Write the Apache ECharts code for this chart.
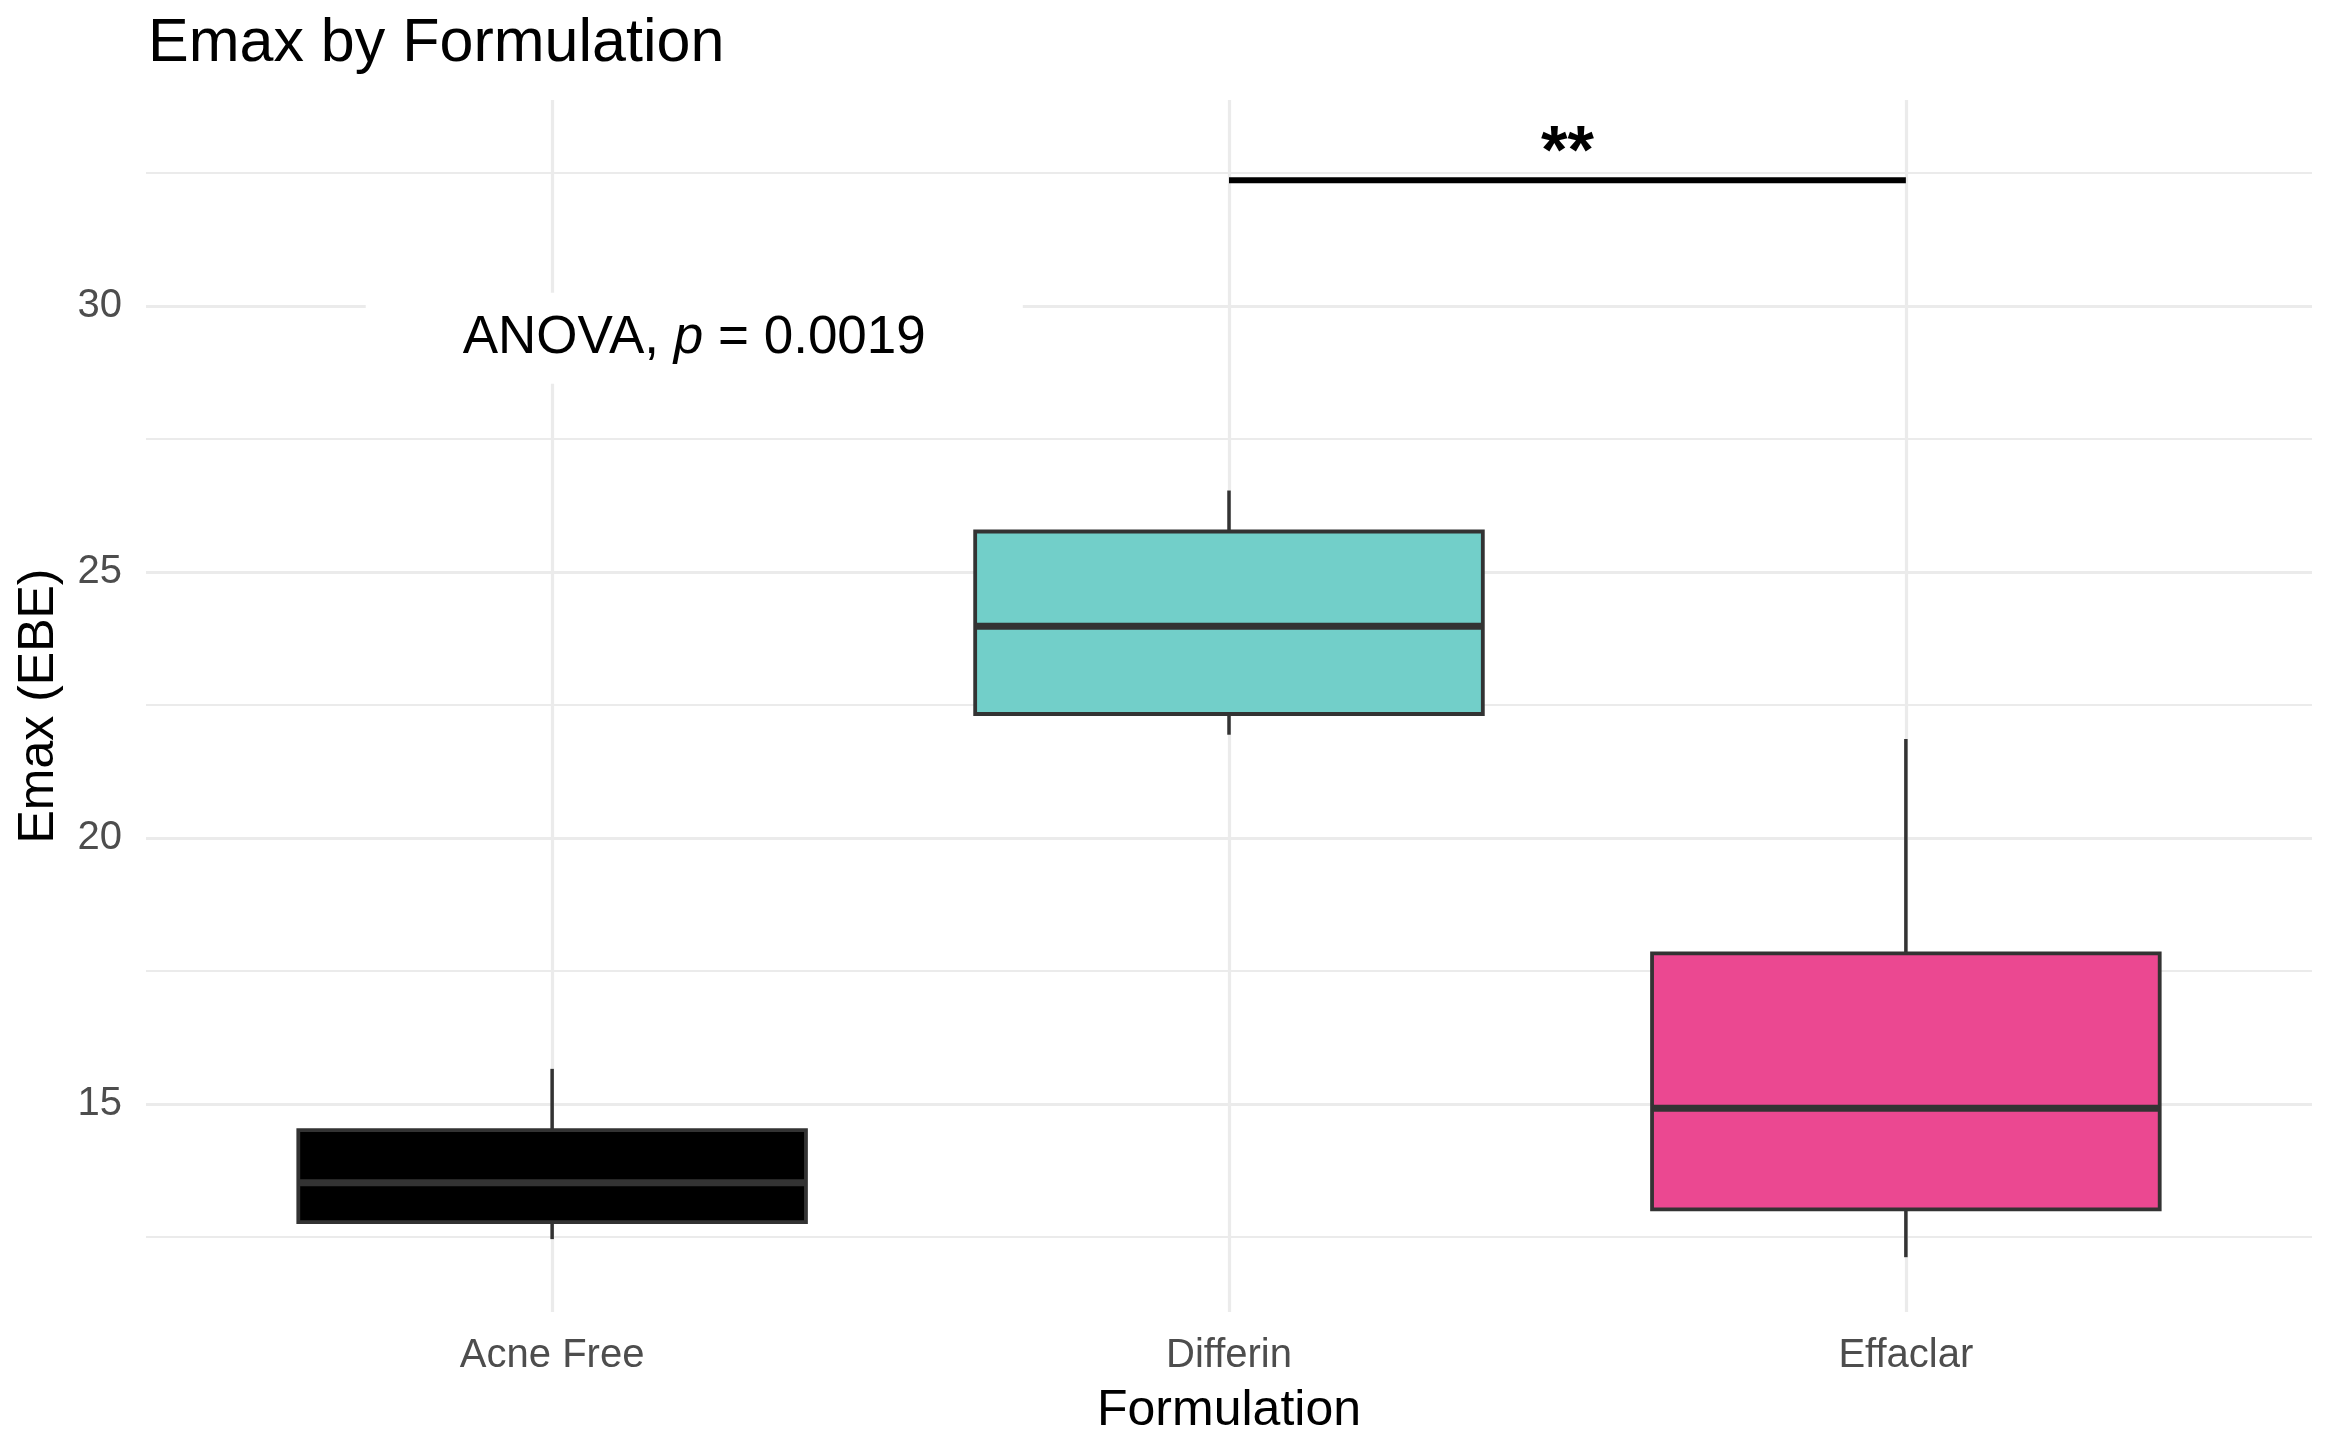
<!DOCTYPE html>
<html>
<head>
<meta charset="utf-8">
<title>Emax by Formulation</title>
<script src="https://cdn.jsdelivr.net/npm/echarts@6/dist/echarts.min.js"></script>
<style>
  html, body { margin: 0; padding: 0; background: #fff; }
  #main { width: 2331px; height: 1450px; }
</style>
</head>
<body>
<div id="main"></div>
<script>
// 数据（从图上读出的箱线图五个数）
var categories = ['Acne Free', 'Differin', 'Effaclar'];
var whiskerLow = [12.46, 21.94, 12.12];
var q1 = [12.78, 22.33, 13.02];
var median = [13.52, 23.98, 14.92];
var q3 = [14.51, 25.76, 17.83];
var whiskerHigh = [15.66, 26.53, 21.86];

var yMajorTicks = [15, 20, 25, 30];
var yMinorTicks = [12.5, 17.5, 22.5, 27.5, 32.5];

var anovaP = '0.0019';
var sigFrom = 'Differin';
var sigTo = 'Effaclar';
var sigY = 32.36;
var sigLabel = '**';

// 颜色
var boxColors = ['#000000', '#72CFC9', '#EB4891'];
var lineColor = '#333333';

var boxData = categories.map(function (c, i) {
    return [i + 1, whiskerLow[i], q1[i], median[i], q3[i], whiskerHigh[i]];
});
var catPos = categories.map(function (c, i) { return i + 1; });
var fromX = categories.indexOf(sigFrom) + 1;
var toX = categories.indexOf(sigTo) + 1;

var myChart = echarts.init(document.getElementById('main'));

function renderBox(params, api) {
    var x = api.value(0);
    var pMin = api.coord([x, api.value(1)]);
    var pQ1 = api.coord([x, api.value(2)]);
    var pMed = api.coord([x, api.value(3)]);
    var pQ3 = api.coord([x, api.value(4)]);
    var pMax = api.coord([x, api.value(5)]);
    var halfW = api.size([0.75, 0])[0] / 2;
    return {
        type: 'group',
        children: [
            { type: 'line', shape: { x1: pMax[0], y1: pMax[1], x2: pQ3[0], y2: pQ3[1] },
              style: { stroke: lineColor, lineWidth: 3.5 } },
            { type: 'line', shape: { x1: pMin[0], y1: pMin[1], x2: pQ1[0], y2: pQ1[1] },
              style: { stroke: lineColor, lineWidth: 3.5 } },
            { type: 'rect', shape: { x: pQ3[0] - halfW, y: pQ3[1], width: halfW * 2, height: pQ1[1] - pQ3[1] },
              style: { fill: boxColors[params.dataIndex], stroke: lineColor, lineWidth: 3.8 } },
            { type: 'line', shape: { x1: pMed[0] - halfW, y1: pMed[1], x2: pMed[0] + halfW, y2: pMed[1] },
              style: { stroke: lineColor, lineWidth: 7 } }
        ]
    };
}

var option = {
    animation: false,
    backgroundColor: '#ffffff',
    textStyle: { fontFamily: 'Liberation Sans' },
    title: {
        text: 'Emax by Formulation',
        left: 143,
        top: 9,
        textStyle: { fontSize: 61, fontWeight: 'normal', color: '#000', fontFamily: 'Liberation Sans' }
    },
    grid: { left: 146, right: 19, top: 100, bottom: 138, containLabel: false },
    xAxis: {
        type: 'value',
        min: 0.4,
        max: 3.6,
        name: 'Formulation',
        nameLocation: 'middle',
        nameGap: 74,
        nameTextStyle: { fontSize: 50, color: '#000' },
        axisLine: { show: false },
        axisTick: { show: false, customValues: catPos },
        axisLabel: {
            customValues: catPos,
            fontSize: 40,
            color: '#4D4D4D',
            margin: 24,
            formatter: function (v) { return categories[Math.round(v) - 1]; }
        },
        splitLine: { show: true, lineStyle: { color: '#EBEBEB', width: 3.2 } }
    },
    yAxis: [{
        type: 'value',
        min: 11.09,
        max: 33.87,
        name: 'Emax (EBE)',
        nameLocation: 'middle',
        nameGap: 82,
        nameTextStyle: { fontSize: 50, color: '#000' },
        axisLine: { show: false },
        axisTick: { show: false, customValues: yMajorTicks },
        axisLabel: { customValues: yMajorTicks, fontSize: 40, color: '#4D4D4D', margin: 24 },
        splitLine: { show: true, lineStyle: { color: '#EBEBEB', width: 3.2 } }
    }, {
        type: 'value',
        min: 11.09,
        max: 33.87,
        axisLine: { show: false },
        axisTick: { show: false, customValues: yMinorTicks },
        axisLabel: { show: false },
        splitLine: { show: true, lineStyle: { color: '#EBEBEB', width: 1.8 } }
    }],
    series: [
        {
            type: 'custom',
            name: 'box',
            renderItem: renderBox,
            encode: { x: 0, y: [1, 2, 3, 4, 5] },
            data: boxData,
            z: 3
        },
        {
            // ANOVA 标签
            type: 'scatter',
            symbolSize: 0,
            data: [[1.21, 29.39]],
            z: 2,
            itemStyle: { opacity: 1 },
            label: {
                show: true,
                position: 'inside',
                backgroundColor: '#ffffff',
                padding: [19, 97],
                formatter: '{n|ANOVA, }{i|p}{n| = ' + anovaP + '}',
                rich: {
                    n: { fontSize: 53, color: '#000', fontFamily: 'Liberation Sans' },
                    i: { fontSize: 53, color: '#000', fontStyle: 'italic', fontFamily: 'Liberation Sans' }
                }
            }
        },
        {
            // 显著性横线
            type: 'line',
            data: [[fromX, sigY], [toX, sigY]],
            showSymbol: false,
            symbol: 'none',
            lineStyle: { color: '#000', width: 6 },
            z: 4
        },
        {
            type: 'scatter',
            symbolSize: 0,
            data: [[(fromX + toX) / 2, sigY]],
            z: 4,
            itemStyle: { opacity: 1 },
            label: {
                show: true,
                position: 'top',
                distance: -8,
                formatter: sigLabel,
                fontSize: 68,
                fontWeight: 'bold',
                color: '#000'
            }
        }
    ]
};

myChart.setOption(option, true);
window.addEventListener('resize', function () {
    myChart.resize();
});
</script>
</body>
</html>
